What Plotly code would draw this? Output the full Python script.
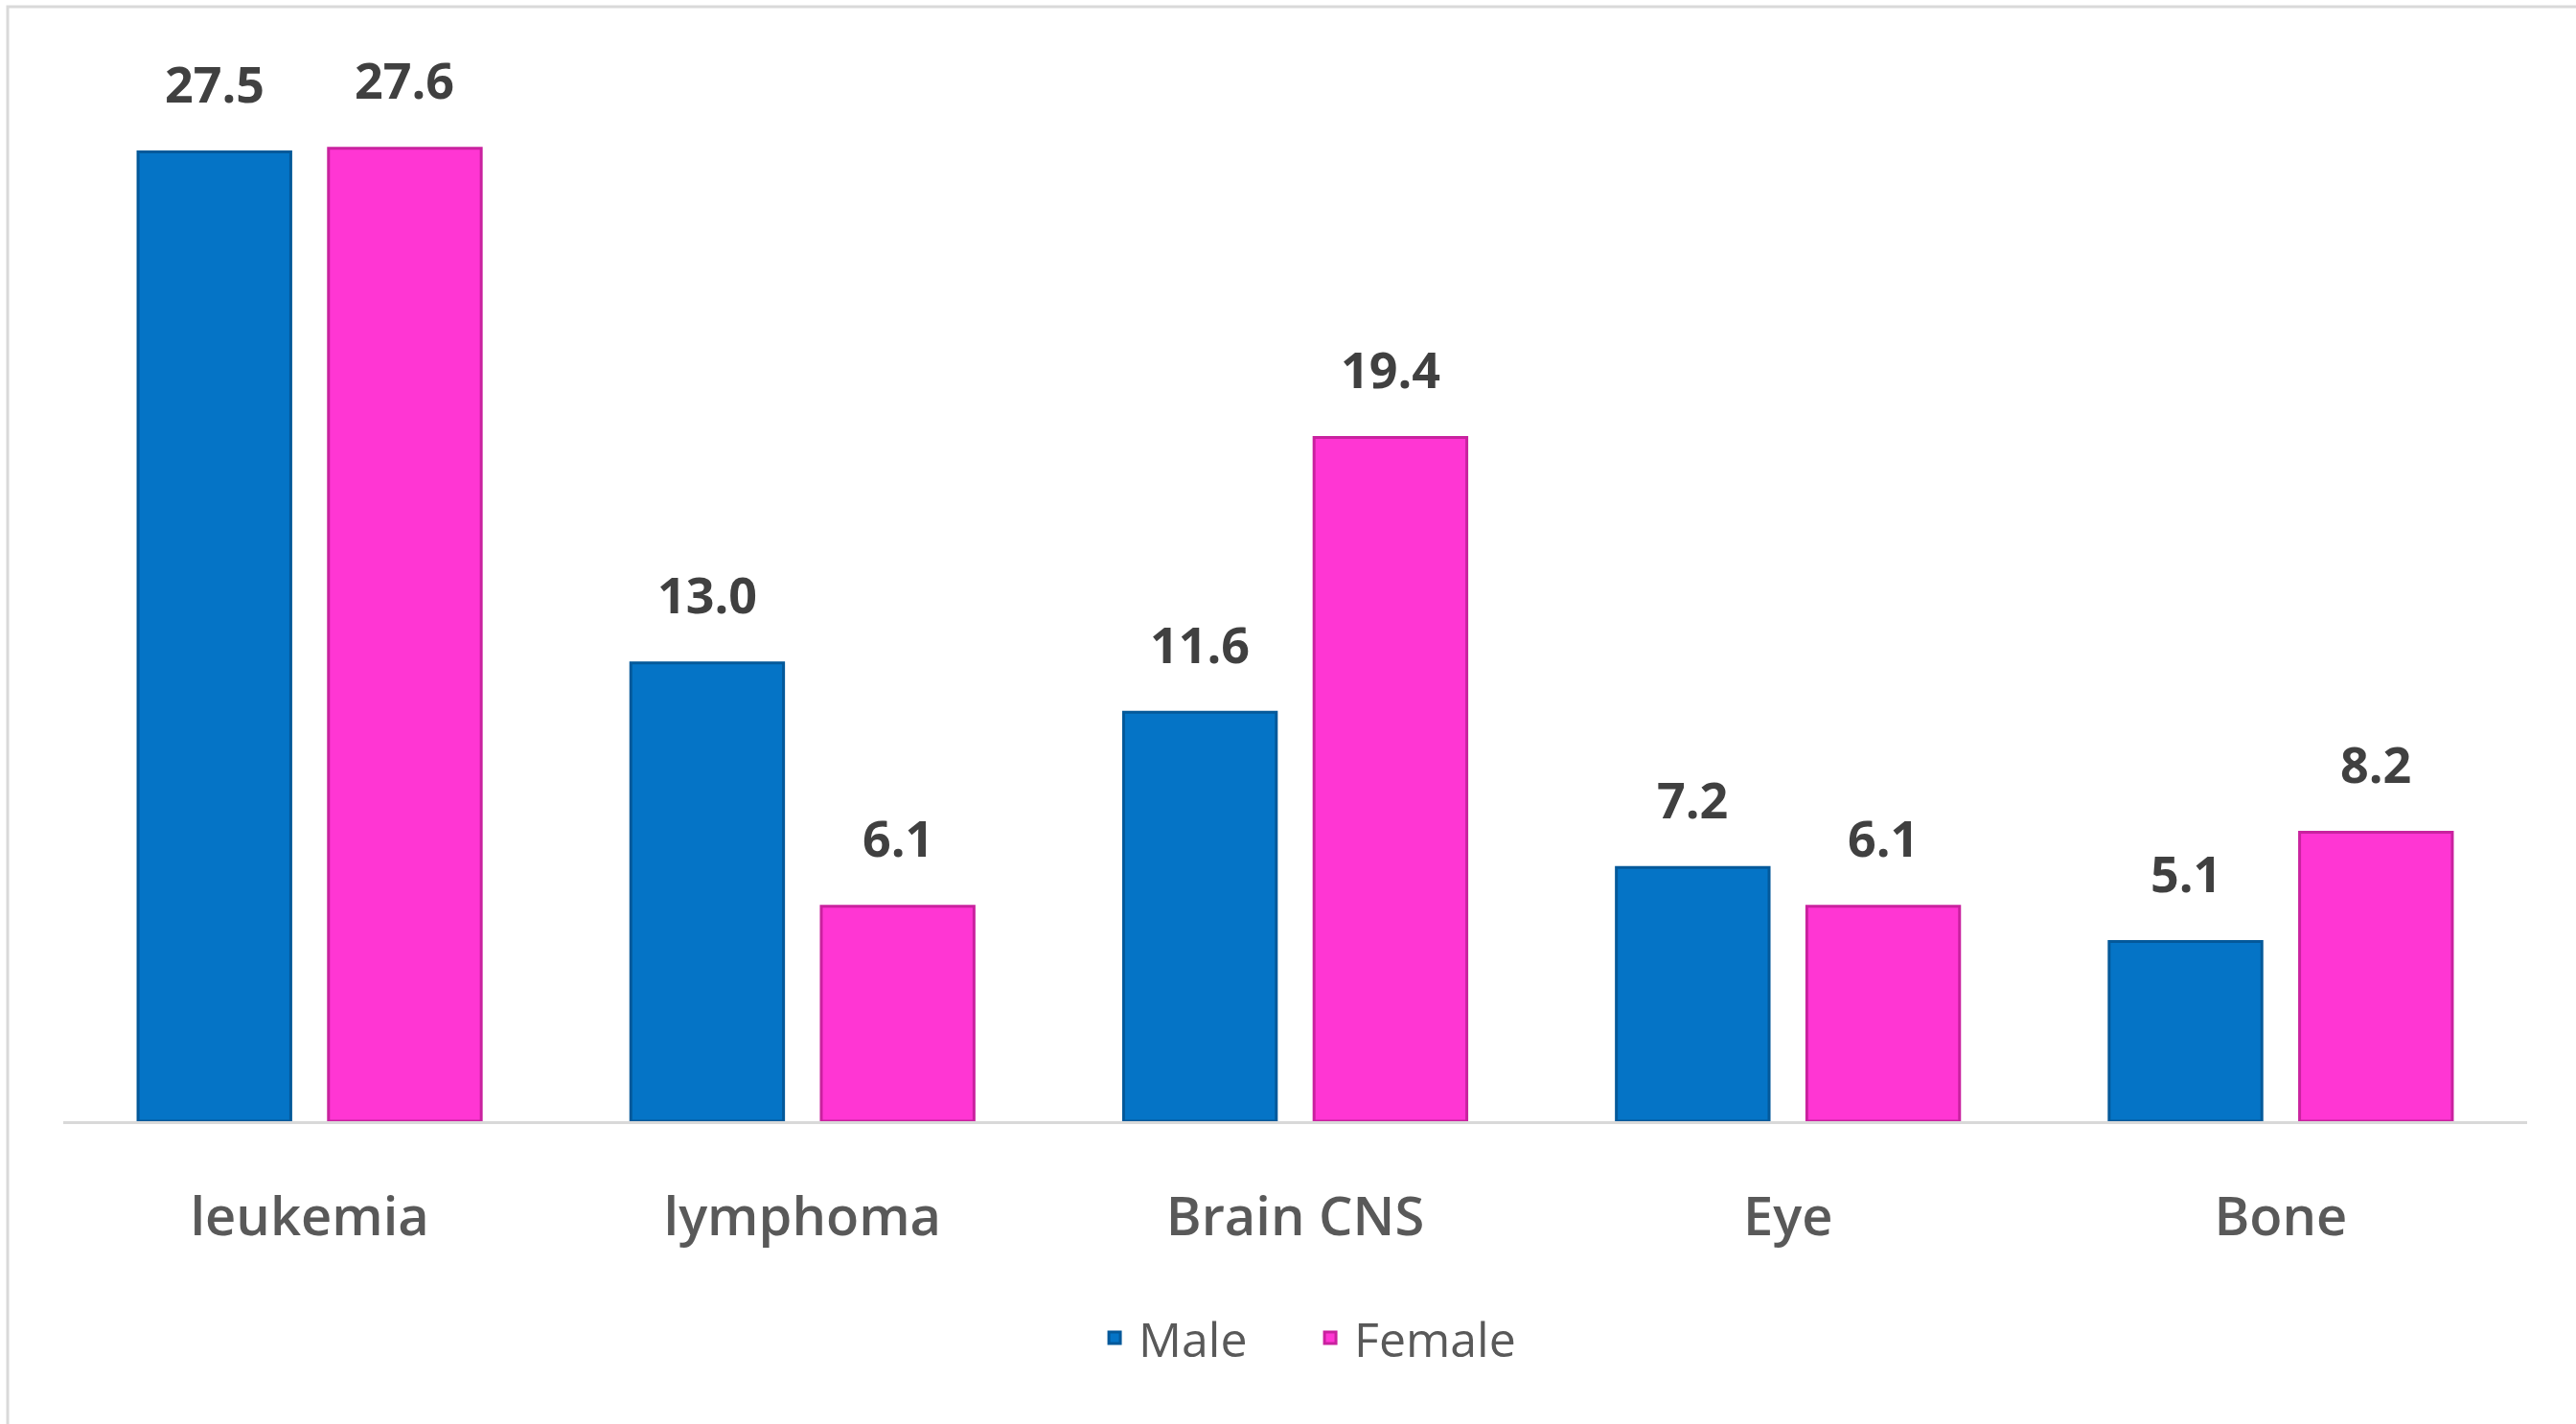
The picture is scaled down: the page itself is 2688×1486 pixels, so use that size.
import plotly.graph_objects as go

categories = ["leukemia", "lymphoma", "Brain CNS", "Eye", "Bone"]
male = [27.5, 13.0, 11.6, 7.2, 5.1]
female = [27.6, 6.1, 19.4, 6.1, 8.2]
series_names = ["Male", "Female"]

W, H = 2688, 1486
ML, MR, MT, MB = 66, 51, 40, 316
plot_w = W - ML - MR
plot_h = H - MT - MB
px_per_unit = 36.78
y_max = plot_h / px_per_unit
bargap = 0.227
bargroupgap = 0.198
slot_px = plot_w / len(categories) * (1 - bargap) / 2

colors = ["#0574C6", "#FF36D3"]
edge_colors = ["#04599A", "#C9229F"]
FONT = "Open Sans"

fig = go.Figure()
for name, vals, c, ec in zip(series_names, [male, female], colors, edge_colors):
    fig.add_trace(go.Bar(
        name=name, x=categories, y=vals,
        marker=dict(color=c, line=dict(color=ec, width=3)),
    ))

annotations = []
for i, vals in enumerate([male, female]):
    shift = (i - 0.5) * slot_px
    for cat, v in zip(categories, vals):
        annotations.append(dict(
            x=cat, y=v, xref="x", yref="y", text=f"{v:.1f}",
            showarrow=False, xshift=shift, yshift=72, yanchor="middle",
            font=dict(family=FONT, size=52, color="#404040", weight="bold"),
        ))

fig.update_layout(
    width=W, height=H,
    margin=dict(l=ML, r=MR, t=MT, b=MB),
    paper_bgcolor="white", plot_bgcolor="white",
    barmode="group", bargap=bargap, bargroupgap=bargroupgap,
    font=dict(family=FONT, color="#595959"),
    annotations=annotations,
    showlegend=True,
    legend=dict(
        orientation="h", x=0.5045, xanchor="center",
        y=-(1396 - (H - MB)) / plot_h, yanchor="middle",
        font=dict(family=FONT, size=50, color="#595959"),
        itemwidth=40, entrywidth=170, entrywidthmode="pixels",
        bgcolor="rgba(0,0,0,0)",
    ),
    xaxis=dict(
        showline=True, linecolor="#D9D9D9", linewidth=3,
        showgrid=False, zeroline=False, ticks="",
        tickfont=dict(family=FONT, size=56, color="#595959", weight=600),
        ticklabelstandoff=49,
    ),
    yaxis=dict(
        range=[0, y_max], visible=False, showgrid=False, zeroline=False,
    ),
    shapes=[dict(
        type="rect", xref="paper", yref="paper",
        xsizemode="pixel", ysizemode="pixel",
        xanchor=0, yanchor=1,
        x0=8 - ML, x1=W + 20 - ML, y0=-(H + 20 - MT), y1=MT - 7,
        line=dict(color="#D9D9D9", width=3), fillcolor="rgba(0,0,0,0)",
        layer="below",
    )],
)

fig.write_html("out.html")
